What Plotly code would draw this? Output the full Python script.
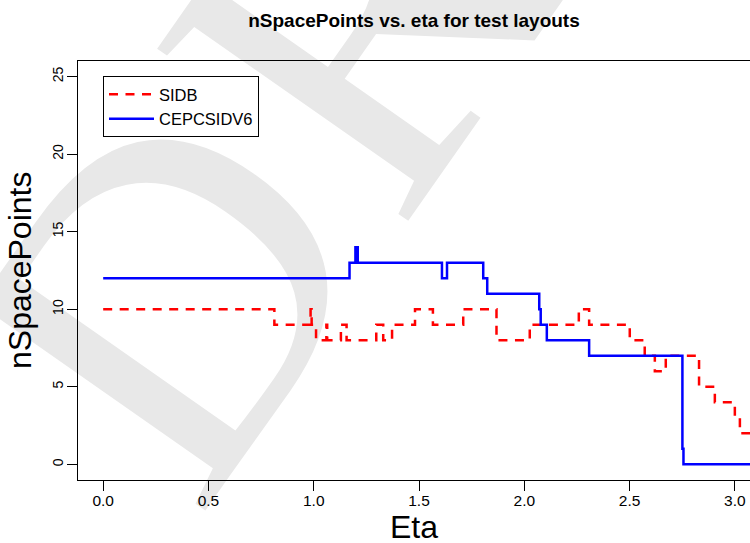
import math
import plotly.graph_objects as go

# ---- data (step curves, R type="s") ----
eta_sidb = [0.000, 0.813, 0.985, 0.990, 1.011, 1.060, 1.064, 1.129, 1.156, 1.297,
            1.330, 1.372, 1.481, 1.566, 1.710, 1.868, 2.026, 2.259, 2.308, 2.501,
            2.572, 2.620, 2.672, 2.830, 2.905, 3.000, 3.024, 3.100]
n_sidb = [10, 9, 10, 9, 8, 9, 8, 9, 8, 9,
          8, 9, 10, 9, 10, 8, 9, 10, 9, 8,
          7, 6, 7, 5, 4, 3, 2, 2]

eta_cepc = [0.000, 1.170, 1.198, 1.209, 1.609, 1.633, 1.805, 1.824, 2.071, 2.078,
            2.107, 2.308, 2.751, 2.756, 3.100]
n_cepc = [12, 13, 14, 13, 12, 13, 12, 11, 10, 9,
          8, 7, 1, 0, 0]

x_tickvals = [0.0, 0.5, 1.0, 1.5, 2.0, 2.5, 3.0]
y_tickvals = [0, 5, 10, 15, 20, 25]

title_text = "nSpacePoints vs. eta for test layouts"
x_title = "Eta"
y_title = "nSpacePoints"
watermark_letters = ["D", "R", "A"]

# ---- layout geometry ----
W, H = 750, 543
ML, MR, MT, MB = 78, 0, 61, 63
PW, PH = W - ML - MR, H - MT - MB

def px_to_paper_x(px):
    return (px - ML) / PW

def px_to_paper_y(py):
    return (H - MB - py) / PH

FONT = "Liberation Sans, Arial, Helvetica, sans-serif"

fig = go.Figure()
fig.add_trace(go.Scatter(
    x=eta_sidb, y=n_sidb, mode="lines", name="SIDB",
    line=dict(color="#ff0000", width=2.5, dash="9px,7.5px", shape="hv"),
))
fig.add_trace(go.Scatter(
    x=eta_cepc, y=n_cepc, mode="lines", name="CEPCSIDV6",
    line=dict(color="#0000ff", width=2.5, shape="hv"),
))

# light grey rotated watermark, behind everything
wm_size = 465
wm_angle = 55
bx, by = math.cos(math.radians(wm_angle)), -math.sin(math.radians(wm_angle))
step = 0.6945 * wm_size + 15
cx0, cy0 = 124, 265
for i, ch in enumerate(watermark_letters):
    px = cx0 + i * step * bx
    py = cy0 + i * step * by
    cx, cy = px_to_paper_x(px), px_to_paper_y(py)
    fig.add_shape(
        type="rect", xref="paper", yref="paper",
        x0=cx - 0.005, x1=cx + 0.005, y0=cy - 0.005, y1=cy + 0.005,
        layer="below", line=dict(width=0), fillcolor="rgba(0,0,0,0)",
        label=dict(text=ch, textangle=-wm_angle, textposition="middle center",
                   font=dict(size=wm_size, color="#e8e8e8",
                             family="Liberation Serif, Times New Roman, serif")),
    )

fig.update_layout(
    width=W, height=H,
    margin=dict(l=ML, r=MR, t=MT, b=MB, pad=0),
    paper_bgcolor="white",
    plot_bgcolor="rgba(0,0,0,0)",
    font=dict(family=FONT, color="black"),
    title=dict(text="<b>" + title_text + "</b>", x=0.5, xref="paper", xanchor="center",
               y=1 - 20.4 / H, yref="container", yanchor="middle",
               font=dict(size=19, family=FONT, color="black")),
    showlegend=True,
    legend=dict(x=px_to_paper_x(103), y=px_to_paper_y(76), xanchor="left", yanchor="top",
                bgcolor="rgba(0,0,0,0)", bordercolor="black", borderwidth=1,
                font=dict(size=16.5, family=FONT, color="black"),
                itemwidth=45, traceorder="normal"),
    xaxis=dict(range=[-0.1196, 3.072], tickvals=x_tickvals, tickformat=".1f",
               showgrid=False, zeroline=False,
               showline=True, linecolor="black", linewidth=1, mirror=True,
               ticks="outside", ticklen=10, tickwidth=1, tickcolor="black",
               ticklabelstandoff=-4,
               tickfont=dict(size=15.5, family=FONT, color="black")),
    yaxis=dict(range=[-1.01, 26.0], tickvals=y_tickvals,
               showgrid=False, zeroline=False,
               showline=True, linecolor="black", linewidth=1, mirror=False,
               ticks="outside", ticklen=10, tickwidth=1, tickcolor="black",
               tickangle=-90, ticklabelstandoff=-2,
               tickfont=dict(size=14, family=FONT, color="black")),
)

fig.add_annotation(text=x_title, xref="paper", yref="paper",
                   x=0.5, y=px_to_paper_y(527), xanchor="center", yanchor="middle",
                   showarrow=False, font=dict(size=32, family=FONT, color="black"))
fig.add_annotation(text=y_title, xref="paper", yref="paper",
                   x=px_to_paper_x(19.5), y=0.5, xanchor="center", yanchor="middle",
                   textangle=-90, showarrow=False,
                   font=dict(size=32, family=FONT, color="black"))

fig.write_html("out.html")
